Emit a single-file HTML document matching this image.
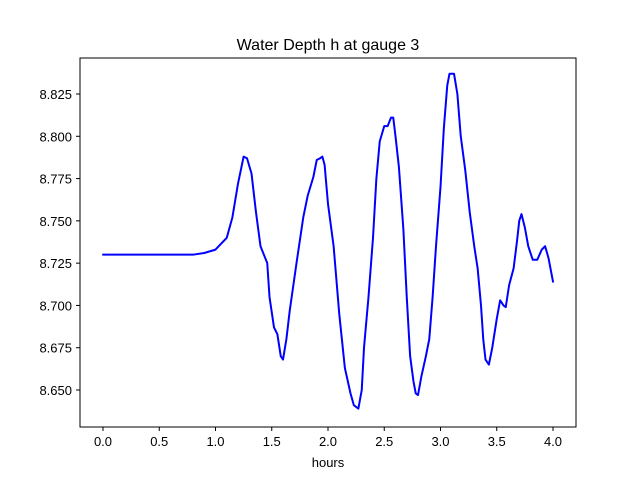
<!DOCTYPE html>
<html><head><meta charset="utf-8"><style>
html,body{margin:0;padding:0;background:#fff;}
svg{display:block;font-family:"Liberation Sans","DejaVu Sans",sans-serif;}
</style></head><body>
<svg id="chart" width="640" height="480">
<rect width="640" height="480" fill="#fff"/>
<text x="328" y="50" text-anchor="middle" font-size="16">Water Depth h at gauge 3</text>
<g id="ticks"></g>
<polyline id="line" fill="none" stroke="#0000ff" stroke-width="2" stroke-linejoin="round" stroke-linecap="round"/>
<rect x="80" y="58" width="496" height="369" fill="none" stroke="#000" stroke-width="1"/>
<text x="328" y="467" text-anchor="middle" font-size="13">hours</text>
</svg>
<script>
const hours=[0,0.8,0.9,1.0,1.1,1.15,1.2,1.25,1.28,1.32,1.36,1.40,1.43,1.46,1.48,1.52,1.55,1.58,1.60,1.63,1.66,1.72,1.78,1.82,1.87,1.9,1.93,1.95,1.97,2.0,2.05,2.1,2.15,2.2,2.23,2.25,2.27,2.30,2.32,2.36,2.40,2.43,2.46,2.50,2.53,2.56,2.58,2.60,2.63,2.67,2.7,2.73,2.76,2.78,2.80,2.83,2.87,2.9,2.93,2.96,3.0,3.03,3.06,3.08,3.12,3.15,3.18,3.22,3.26,3.30,3.33,3.36,3.38,3.40,3.43,3.46,3.50,3.53,3.56,3.58,3.61,3.65,3.68,3.70,3.72,3.75,3.78,3.82,3.86,3.90,3.93,3.96,4.0];
const depths=[8.730,8.730,8.731,8.733,8.740,8.752,8.772,8.788,8.787,8.778,8.755,8.735,8.730,8.725,8.705,8.687,8.683,8.670,8.668,8.680,8.697,8.725,8.752,8.765,8.776,8.786,8.787,8.788,8.783,8.760,8.735,8.695,8.663,8.648,8.641,8.640,8.639,8.650,8.675,8.705,8.740,8.775,8.797,8.806,8.806,8.811,8.811,8.800,8.782,8.745,8.705,8.670,8.655,8.648,8.647,8.658,8.670,8.680,8.705,8.735,8.770,8.805,8.830,8.837,8.837,8.825,8.800,8.780,8.755,8.735,8.722,8.700,8.680,8.668,8.665,8.675,8.692,8.703,8.700,8.699,8.712,8.722,8.738,8.750,8.754,8.746,8.735,8.727,8.727,8.733,8.735,8.728,8.714];
const xTicks=[0,0.5,1.0,1.5,2.0,2.5,3.0,3.5,4.0];
const xTickLabels=["0.0","0.5","1.0","1.5","2.0","2.5","3.0","3.5","4.0"];
const yTicks=[8.650,8.675,8.700,8.725,8.750,8.775,8.800,8.825];
const yTickLabels=["8.650","8.675","8.700","8.725","8.750","8.775","8.800","8.825"];
function xs(v){return 103+v*112.5;}
function ys(v){return 390-(v-8.65)*(296/0.175);}
const NS="http://www.w3.org/2000/svg";
const g=document.getElementById('ticks');
xTicks.forEach((t,i)=>{
  const l=document.createElementNS(NS,'line');
  
  
  l.setAttribute('x1',xs(t));l.setAttribute('x2',xs(t));l.setAttribute('y1',427);l.setAttribute('y2',431);l.setAttribute('stroke','#000');
  g.appendChild(l);
  const tx=document.createElementNS(NS,'text');
  
  
  tx.setAttribute('x',xs(t));tx.setAttribute('y',446);tx.setAttribute('text-anchor','middle');tx.setAttribute('font-size','13');
  tx.textContent=xTickLabels[i];g.appendChild(tx);
});
yTicks.forEach((t,i)=>{
  const l=document.createElementNS(NS,'line');
  
  
  l.setAttribute('x1',76);l.setAttribute('x2',80);l.setAttribute('y1',ys(t));l.setAttribute('y2',ys(t));l.setAttribute('stroke','#000');
  g.appendChild(l);
  const tx=document.createElementNS(NS,'text');
  
  
  tx.setAttribute('x',72);tx.setAttribute('y',ys(t)+5);tx.setAttribute('text-anchor','end');tx.setAttribute('font-size','13');
  tx.textContent=yTickLabels[i];g.appendChild(tx);
});
document.getElementById('line').setAttribute('points',hours.map((h,i)=>xs(h)+','+ys(depths[i])).join(' '));
</script>
</body></html>
